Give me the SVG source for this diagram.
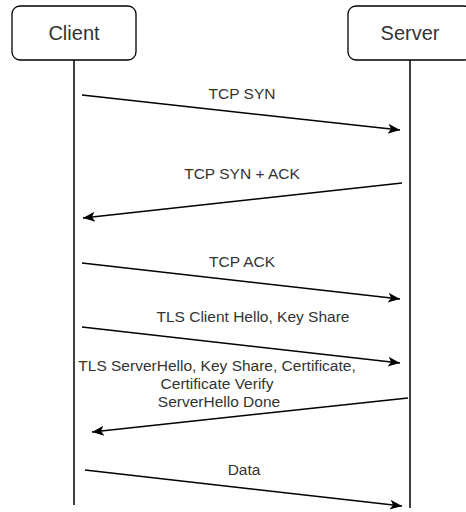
<svg xmlns="http://www.w3.org/2000/svg" width="466" height="512" viewBox="0 0 466 512">
  <style>
    .box { fill: #ffffff; stroke: #000000; stroke-width: 1.3; }
    .life { stroke: #000000; stroke-width: 1.5; fill: none; }
    .msg { stroke: #000000; stroke-width: 1.5; fill: none; marker-end: url(#arrow); }
    .title { font-family: "Liberation Sans", Arial, sans-serif; font-size: 20px; fill: #333333; text-anchor: middle; }
    .lbl { font-family: "Liberation Sans", Arial, sans-serif; font-size: 15.5px; fill: #333333; text-anchor: middle; }
  </style>
  <defs>
    <marker id="arrow" markerUnits="userSpaceOnUse" markerWidth="14" markerHeight="12" refX="12" refY="5" orient="auto" viewBox="0 0 14 10">
      <path d="M0,0 L12,5 L0,10 L3,5 Z" fill="#000000"/>
    </marker>
  </defs>

  <g id="client">
    <rect class="box" x="12" y="6" width="124" height="54" rx="8" ry="8"/>
    <text class="title" x="74" y="40">Client</text>
  </g>
  <g id="server">
    <rect class="box" x="348" y="6" width="124" height="54" rx="8" ry="8"/>
    <text class="title" x="410" y="40">Server</text>
  </g>

  <g id="lifelines">
    <line class="life" x1="74" y1="60" x2="74" y2="505"/>
    <line class="life" x1="410" y1="60" x2="410" y2="508"/>
  </g>

  <g id="connectors">
    <line class="msg" x1="82" y1="95" x2="400" y2="130"/>
    <line class="msg" x1="402" y1="183" x2="83" y2="218"/>
    <line class="msg" x1="82" y1="263" x2="400" y2="299"/>
    <line class="msg" x1="82" y1="327" x2="400" y2="363"/>
    <line class="msg" x1="408" y1="398" x2="92" y2="432"/>
    <line class="msg" x1="85" y1="470" x2="402" y2="506"/>
  </g>

  <g id="labels">
    <text class="lbl" x="242" y="99">TCP SYN</text>
    <text class="lbl" x="242" y="179">TCP SYN + ACK</text>
    <text class="lbl" x="242" y="267">TCP ACK</text>
    <text class="lbl" x="253" y="322">TLS Client Hello, Key Share</text>
    <text class="lbl" x="217" y="371">TLS ServerHello, Key Share, Certificate,</text>
    <text class="lbl" x="217" y="389">Certificate Verify</text>
    <text class="lbl" x="219" y="407">ServerHello Done</text>
    <text class="lbl" x="244" y="475">Data</text>
  </g>
</svg>
